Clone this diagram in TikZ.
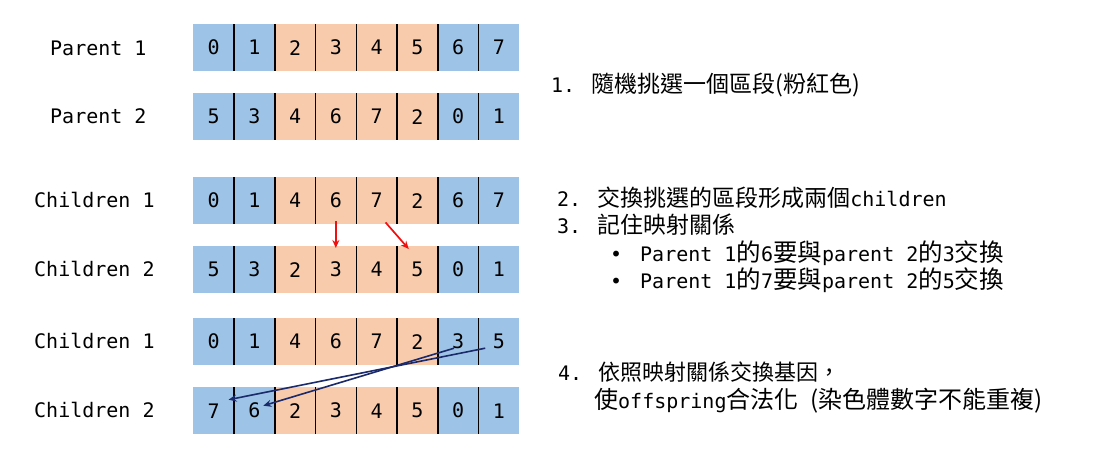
\documentclass[tikz,border=0pt]{standalone}
\usepackage{fontspec}
\setmainfont{DejaVu Sans Mono}
\newfontfamily\cjk{Noto Sans CJK TC}
\usetikzlibrary{arrows.meta}
\newcommand\cjksize{23}
\newcommand\C[1]{{\fontsize{\cjksize}{26}\cjk #1}}
\definecolor{cblue}{HTML}{9DC3E6}
\definecolor{corange}{HTML}{F8CBAD}
\definecolor{navy}{HTML}{1B2A6B}
\definecolor{redarr}{HTML}{F01010}
\begin{document}
\begin{tikzpicture}[x=1pt,y=-1pt,
  cell/.style={minimum width=40.75pt, minimum height=47pt, inner sep=0pt, anchor=north west, font=\fontsize{20}{24}\selectfont},
  divider/.style={draw=black, line width=1.4pt},
  lab/.style={anchor=base west, inner sep=0pt, font=\fontsize{20}{24}\selectfont},
  txt/.style={anchor=base west, inner sep=0pt, font=\fontsize{20}{24}\selectfont},
  redarrow/.style={draw=redarr, line width=1.7pt, -{Stealth[length=8pt,width=7pt]}},
  navyarrow/.style={draw=navy, line width=1.6pt, -{Stealth[length=8pt,width=7pt]}}]
\useasboundingbox (0,0) rectangle (1100,459);
\fill[white] (0,0) rectangle (1100,459);
\foreach \r/\t/\vals in {p1/24/{0,1,2,3,4,5,6,7}, p2/93/{5,3,4,6,7,2,0,1}, c1/177/{0,1,4,6,7,2,6,7}, c2/246/{5,3,2,3,4,5,0,1}, d1/318/{0,1,4,6,7,2,3,5}, d2/387/{7,6,2,3,4,5,0,1}} {
  \foreach \v [count=\i from 0] in \vals {
    \ifnum\i<2 \def\cc{cblue}\else\ifnum\i>5 \def\cc{cblue}\else\def\cc{corange}\fi\fi
    \node[cell, fill=\cc] (\r-\i) at ({193+40.75*\i},\t) {\v};
  }
  \foreach \i in {0,...,6} \draw[divider] (\r-\i.north east) -- (\r-\i.south east);
}
% row labels
\node[lab] (lp1) at (50,55) {Parent 1};
\node[lab] (lp2) at (50,123) {Parent 2};
\node[lab] (lc1) at (34,207) {Children 1};
\node[lab] (lc2) at (34,276.5) {Children 2};
\node[lab] (ld1) at (34,348.5) {Children 1};
\node[lab] (ld2) at (34,417.5) {Children 2};
% arrows
\draw[redarrow] ([yshift=3pt]c1-3.south) -- ([yshift=-2pt]c2-3.north);
\draw[redarrow] ([xshift=9pt,yshift=2pt]c1-4.south) -- ([xshift=12pt,yshift=-3pt]c2-5.north west);
\draw[navyarrow] ([xshift=-4pt,yshift=-6.5pt]d1-6.center) -- ([xshift=9pt,yshift=5pt]d2-1.center);
\draw[navyarrow] ([xshift=-13.6pt,yshift=-6.5pt]d1-7.center) -- ([xshift=15pt,yshift=11pt]d2-0.center);
% text
\node[txt] (t1) at (551,92) {1. \C{隨機挑選一個區段(粉紅色)}};
\node[txt] (t2) at (557,206) {2. \C{交換挑選的區段形成兩個}children};
\node[txt] (t3) at (557,233) {3. \C{記住映射關係}};
\node[txt] (b1) at (610,261) {•};
\node[txt] (t4) at (640,261) {\renewcommand\cjksize{24.5}Parent 1\C{的}6\C{要與}parent 2\C{的}3\C{交換}};
\node[txt] (b2) at (610,288) {•};
\node[txt] (t5) at (640,288) {\renewcommand\cjksize{24.5}Parent 1\C{的}7\C{要與}parent 2\C{的}5\C{交換}};
\node[txt] (t6) at (558,380) {\renewcommand\cjksize{22}4. \C{依照映射關係交換基因，}};
\node[txt] (t7) at (594,408) {\renewcommand\cjksize{24}\C{使}offspring\C{合法化} \C{(染色體數字不能重複)}};
\end{tikzpicture}
\end{document}
